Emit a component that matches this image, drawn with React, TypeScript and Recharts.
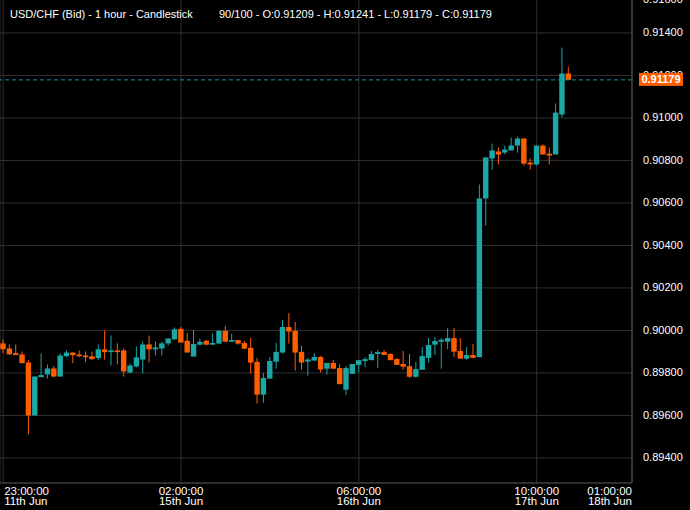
import { ComposedChart, Bar, XAxis, YAxis, CartesianGrid, ReferenceLine } from 'recharts';

// hourly candles (index 0 = 23:00 11th Jun)
const opens = [
  0.89939, 0.89915, 0.89893, 0.89887, 0.89849, 0.896, 0.8978, 0.89793, 0.89821, 0.89783,
  0.89879, 0.89896, 0.89887, 0.89882, 0.89878, 0.8987, 0.89911, 0.89898, 0.89906, 0.89906,
  0.89802, 0.8983, 0.89863, 0.89934, 0.89911, 0.89915, 0.89939, 0.89958, 0.90007, 0.89951,
  0.89877, 0.89933, 0.89951, 0.89933, 0.89938, 0.89998, 0.89947, 0.89955, 0.89941, 0.89918,
  0.89852, 0.89698, 0.89773, 0.89853, 0.89896, 0.90016, 0.89998, 0.89899, 0.89853, 0.89858,
  0.89875, 0.8982, 0.89847, 0.89823, 0.89721, 0.89796, 0.89838, 0.89856, 0.8986, 0.89889,
  0.89898, 0.89889, 0.89865, 0.89842, 0.89832, 0.89782, 0.89815, 0.89871, 0.89933, 0.89947,
  0.89947, 0.89964, 0.89903, 0.89867, 0.89884, 0.89874, 0.90621, 0.90809, 0.90842, 0.90837,
  0.90847, 0.9087, 0.90903, 0.9079, 0.90781, 0.9087, 0.90832, 0.90828, 0.91016, 0.91209,
];
const highs = [
  0.89958, 0.89934, 0.89934, 0.89901, 0.8986, 0.89783, 0.89892, 0.8984, 0.89832, 0.89892,
  0.89906, 0.89896, 0.89906, 0.89901, 0.89901, 0.89934, 0.9, 0.89976, 0.89939, 0.89915,
  0.89845, 0.89925, 0.89948, 0.89976, 0.89948, 0.89948, 0.89962, 0.90014, 0.90016, 0.89988,
  0.90002, 0.8996, 0.89955, 0.89984, 0.90002, 0.90021, 0.89984, 0.89955, 0.89951, 0.89965,
  0.89871, 0.898, 0.89875, 0.89941, 0.90049, 0.90082, 0.9004, 0.89927, 0.89871, 0.89894,
  0.8988, 0.89847, 0.89861, 0.89842, 0.89832, 0.89842, 0.8986, 0.89874, 0.89903, 0.89907,
  0.89907, 0.89893, 0.8987, 0.89903, 0.89889, 0.89851, 0.89922, 0.89964, 0.89969, 0.89964,
  0.90011, 0.90011, 0.89964, 0.89922, 0.89936, 0.90687, 0.90814, 0.90879, 0.90861, 0.9087,
  0.90908, 0.90912, 0.90903, 0.90809, 0.9087, 0.90875, 0.90861, 0.91068, 0.91331, 0.91241,
];
const lows = [
  0.89893, 0.89887, 0.89884, 0.89846, 0.8951, 0.896, 0.8978, 0.89774, 0.89779, 0.89783,
  0.89874, 0.89846, 0.89874, 0.89851, 0.8986, 0.8986, 0.89863, 0.89835, 0.8984, 0.89783,
  0.89798, 0.89826, 0.89798, 0.89849, 0.89882, 0.89882, 0.89929, 0.89958, 0.89943, 0.89896,
  0.89877, 0.89929, 0.89929, 0.89933, 0.89938, 0.89947, 0.89947, 0.89933, 0.89914, 0.89797,
  0.89656, 0.8966, 0.89773, 0.8982, 0.89891, 0.89938, 0.89811, 0.89816, 0.89787, 0.89858,
  0.89802, 0.89792, 0.8982, 0.89747, 0.89697, 0.89796, 0.89804, 0.89827, 0.8986, 0.89823,
  0.89885, 0.8986, 0.89838, 0.89815, 0.89777, 0.89777, 0.89815, 0.89848, 0.89885, 0.8982,
  0.89912, 0.89876, 0.89867, 0.89862, 0.89871, 0.89874, 0.90494, 0.90757, 0.90781, 0.90828,
  0.90847, 0.90837, 0.90776, 0.90757, 0.90776, 0.90828, 0.90781, 0.90828, 0.91002, 0.91179,
];
const closes = [
  0.89912, 0.89887, 0.89884, 0.89846, 0.896, 0.89783, 0.8979, 0.89821, 0.89783, 0.89882,
  0.89896, 0.89884, 0.89879, 0.89874, 0.89865, 0.89911, 0.89898, 0.89906, 0.89898, 0.89807,
  0.89835, 0.89873, 0.89934, 0.89911, 0.8992, 0.89939, 0.89962, 0.90005, 0.89943, 0.89896,
  0.89936, 0.89946, 0.89933, 0.89941, 0.89998, 0.89947, 0.89955, 0.89938, 0.89914, 0.89849,
  0.89698, 0.89776, 0.89856, 0.89899, 0.90016, 0.89995, 0.89896, 0.89849, 0.89863, 0.89875,
  0.89816, 0.89847, 0.8982, 0.89747, 0.89823, 0.89842, 0.8986, 0.89865, 0.89889, 0.89898,
  0.89885, 0.8986, 0.89838, 0.89829, 0.89782, 0.89818, 0.89879, 0.89931, 0.8995, 0.89956,
  0.89964, 0.899, 0.89867, 0.89884, 0.89871, 0.90621, 0.90814, 0.90847, 0.90828, 0.90851,
  0.9087, 0.90903, 0.90785, 0.90781, 0.9087, 0.90828, 0.90823, 0.91025, 0.91209, 0.91179,
];

const SLOTS = 100;
const tickIdx = [0, 28, 56, 84, 99];
const tickTimes = ['23:00:00', '02:00:00', '06:00:00', '10:00:00', '01:00:00'];
const tickDates = ['11th Jun', '15th Jun', '16th Jun', '17th Jun', '18th Jun'];
const priceTicks = [0.894, 0.896, 0.898, 0.9, 0.902, 0.904, 0.906, 0.908, 0.91, 0.912, 0.914, 0.916];
const priceDomain = [0.89282, 0.91602];

const TEAL = '#1ca6a6';
const ORANGE = '#ff5e00';
const FONT = '"Liberation Sans", Arial, sans-serif';

const data = opens.map((o, i) => ({ i, o, h: highs[i], l: lows[i], c: closes[i] }));
const last = data[data.length - 1];

function Candle(props: any) {
  const { x, y, width, height, payload } = props;
  const { o, h, l, c } = payload;
  const color = c >= o ? TEAL : ORANGE;
  const yTop = Math.min(y, y + height);
  const yBot = Math.max(y, y + height);
  const span = h - l || 1e-9;
  const py = (v: number) => yTop + ((h - v) / span) * (yBot - yTop);
  const cx = x + width / 2;
  const bTop = py(Math.max(o, c));
  const bBot = py(Math.min(o, c));
  const bw = 5.4;
  return (
    <g>
      <line x1={cx} x2={cx} y1={yTop} y2={yBot} stroke={color} strokeWidth={1} />
      <rect x={cx - bw / 2} y={bTop} width={bw} height={Math.max(bBot - bTop, 1.2)} fill={color} />
    </g>
  );
}

function TimeTick({ x, y, payload }: any) {
  const k = tickIdx.indexOf(payload.value);
  if (k < 0) return null;
  const first = k === 0;
  const lastTick = k === tickIdx.length - 1;
  const anchor = first ? 'start' : lastTick ? 'end' : 'middle';
  const tx = first ? x + 1 : x;
  return (
    <g fontFamily={FONT} fontSize={11.5} fill="#fff">
      <text x={tx} y={y + 12} textAnchor={anchor}>{tickTimes[k]}</text>
      <text x={tx} y={y + 22} textAnchor={anchor}>{tickDates[k]}</text>
    </g>
  );
}

function PriceTick({ x, y, payload }: any) {
  return (
    <text x={x} y={Math.max(y + 3.5, 13)} textAnchor="start" fontFamily={FONT} fontSize={11} fill="#fff">
      {payload.value.toFixed(5)}
    </text>
  );
}

// drawn by a second, 1px-wide outer axis so it sits above the first axis' labels
function TagTick({ x, y, payload }: any) {
  const left = x - 50;
  return (
    <g>
      <rect x={left} y={y - 7} width={44} height={13} fill={ORANGE} />
      <text x={left + 22} y={y + 3.5} textAnchor="middle" fontFamily={FONT} fontSize={11} fontWeight="bold" fill="#fff">
        {payload.value.toFixed(5)}
      </text>
    </g>
  );
}

export default function App() {
  return (
    <div style={{ position: 'fixed', left: 0, top: 0, width: 690, height: 510, overflow: 'hidden', background: '#000' }}>
      <div style={{ position: 'absolute', left: 0, top: -10 }}>
        <ComposedChart width={690} height={520} data={data} margin={{ top: 0, right: 0, bottom: 0, left: 0 }}>
          <CartesianGrid stroke="#303030" />
          <XAxis
            dataKey="i"
            type="number"
            domain={[-0.5, SLOTS - 1]}
            allowDataOverflow
            ticks={tickIdx}
            interval={0}
            height={27}
            tickLine={false}
            tickSize={0}
            tickMargin={0}
            axisLine={{ stroke: '#444' }}
            tick={<TimeTick />}
          />
          <YAxis
            orientation="right"
            type="number"
            domain={priceDomain}
            allowDataOverflow
            ticks={priceTicks}
            interval={0}
            width={57}
            tickLine={false}
            tickSize={0}
            tickMargin={11}
            axisLine={{ stroke: '#555' }}
            tick={<PriceTick />}
          />
          <YAxis
            yAxisId="tag"
            orientation="right"
            type="number"
            domain={priceDomain}
            allowDataOverflow
            ticks={[last.c]}
            interval={0}
            width={1}
            tickLine={false}
            tickSize={0}
            tickMargin={0}
            axisLine={false}
            tick={<TagTick />}
          />
          <Bar dataKey={(d: any) => [d.l, d.h]} barSize={6} shape={<Candle />} isAnimationActive={false} />
          <ReferenceLine yAxisId="tag" y={last.c} stroke="#1a8ca6" strokeDasharray="4 3" />
        </ComposedChart>
      </div>
      <svg width={690} height={30} style={{ position: 'absolute', left: 0, top: 0 }}>
        <g fontFamily={FONT} fontSize={11} fill="#fff">
          <text x={10} y={17.5}>USD/CHF (Bid) - 1 hour - Candlestick</text>
          <text x={219} y={17.5}>
            {`${last.i + 1}/${SLOTS} - O:${last.o.toFixed(5)} - H:${last.h.toFixed(5)} - L:${last.l.toFixed(5)} - C:${last.c.toFixed(5)}`}
          </text>
        </g>
      </svg>
    </div>
  );
}
